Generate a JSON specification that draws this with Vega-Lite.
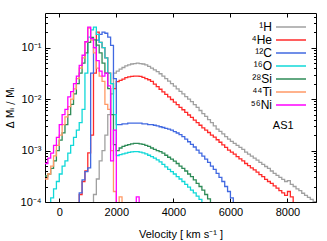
{
  "$schema": "https://vega.github.io/schema/vega-lite/v6.json",
  "width": 271,
  "height": 189,
  "autosize": "none",
  "padding": {"left": 45, "top": 13, "right": 11, "bottom": 39},
  "config": {
    "font": "Liberation Sans",
    "view": {"stroke": "#000", "strokeWidth": 1},
    "axis": {"labelColor": "#000", "titleColor": "#000", "tickColor": "#000", "labelFontSize": 11, "titleFontSize": 11, "titleFontWeight": "normal", "grid": false, "domain": false}
  },
  "data": {"values": [
    {"v": -500, "Si": 3.2e-4, "Ti": 2.8e-4, "Ni": 5.6e-4},
    {"v": -400, "O": 1e-6, "Si": 3.5e-4, "Ti": 3.5e-4, "Ni": 7.1e-4},
    {"v": -300, "O": 1.2e-4, "Si": 4.5e-4, "Ti": 5e-4, "Ni": 8.9e-4},
    {"v": -200, "O": 1.8e-4, "Si": 6.3e-4, "Ti": 7.9e-4, "Ni": 1.26e-3},
    {"v": -100, "O": 2.5e-4, "Si": 1.0e-3, "Ti": 1.26e-3, "Ni": 1.8e-3},
    {"v": 0, "O": 3.5e-4, "Si": 1.6e-3, "Ti": 2.0e-3, "Ni": 3.2e-3},
    {"v": 100, "O": 5e-4, "Si": 2.2e-3, "Ti": 3.2e-3, "Ni": 5.0e-3},
    {"v": 200, "O": 6.3e-4, "Si": 3.2e-3, "Ti": 4.5e-3, "Ni": 6.3e-3},
    {"v": 300, "O": 8.9e-4, "Si": 5.0e-3, "Ti": 7.1e-3, "Ni": 1.1e-2},
    {"v": 400, "O": 1.26e-3, "Si": 7.9e-3, "Ti": 1.0e-2, "Ni": 1.4e-2},
    {"v": 500, "O": 1.8e-3, "Si": 1.26e-2, "Ti": 1.58e-2, "Ni": 2.0e-2},
    {"v": 600, "He": 1e-6, "C": 1e-6, "O": 2.5e-3, "Si": 2.0e-2, "Ti": 2.5e-2, "Ni": 2.8e-2},
    {"v": 700, "He": 1.4e-4, "C": 1.5e-4, "O": 3.5e-3, "Si": 3.2e-2, "Ti": 4.0e-2, "Ni": 4.5e-2},
    {"v": 800, "He": 2.5e-4, "C": 2.7e-4, "O": 6.3e-3, "Si": 5.0e-2, "Ti": 6.3e-2, "Ni": 7.1e-2},
    {"v": 900, "He": 4e-4, "C": 3.9e-4, "O": 0.032, "Si": 0.079, "Ti": 0.13, "Ni": 0.13},
    {"v": 1000, "He": 9e-4, "C": 4.6e-4, "O": 0.16, "Si": 0.126, "Ti": 0.24, "Ni": 0.25},
    {"v": 1100, "H": 1e-6, "He": 2e-3, "C": 0.032, "O": 0.22, "Si": 0.158, "Ti": 0.14, "Ni": 0.15},
    {"v": 1200, "H": 1.4e-4, "He": 0.032, "C": 0.1, "O": 0.25, "Si": 0.141, "Ti": 0.079, "Ni": 0.1},
    {"v": 1300, "H": 2.8e-4, "He": 0.2, "C": 0.14, "O": 0.18, "Si": 0.112, "Ti": 0.04, "Ni": 0.056},
    {"v": 1400, "H": 6.3e-4, "He": 0.126, "C": 0.18, "O": 0.126, "Si": 0.079, "Ti": 0.028, "Ni": 0.035},
    {"v": 1500, "H": 1e-3, "He": 0.1, "C": 0.2, "O": 0.1, "Si": 0.05, "Ti": 0.022, "Ni": 0.028},
    {"v": 1600, "H": 2e-3, "He": 0.063, "C": 0.19, "O": 0.063, "Si": 0.032, "Ti": 0.0079, "Ni": 0.032},
    {"v": 1700, "H": 5e-3, "He": 0.032, "C": 0.16, "O": 0.032, "Si": 0.016, "Ti": 0.0063, "Ni": 0.018},
    {"v": 1800, "H": 0.0126, "He": 0.02, "C": 0.11, "O": 0.02, "Si": 0.005, "Ti": 1e-3, "Ni": 6.3e-4},
    {"v": 1900, "H": 0.032, "He": 0.016, "C": 0.025, "O": 0.005, "Si": 1.3e-3, "Ti": 1.6e-4, "Ni": 2.5e-3},
    {"v": 2000, "H": 0.035, "He": 0.0219, "C": 0.0032, "O": 8e-4, "Si": 1e-3, "Ti": 1e-6, "Ni": 1e-6},
    {"v": 2100, "H": 0.038, "He": 0.023, "C": 0.0032, "O": 8.3e-4, "Si": 1.12e-3, "Ti": 1.26e-4},
    {"v": 2200, "H": 0.041, "He": 0.0245, "C": 0.0033, "O": 8.6e-4, "Si": 1.2e-3, "Ti": 1e-6},
    {"v": 2300, "H": 0.044, "He": 0.026, "C": 0.0033, "O": 8.9e-4, "Si": 1.26e-3},
    {"v": 2400, "H": 0.046, "He": 0.027, "C": 0.0034, "O": 9.2e-4, "Si": 1.3e-3},
    {"v": 2500, "H": 0.048, "He": 0.0275, "C": 0.0034, "O": 9.4e-4, "Si": 1.35e-3},
    {"v": 2600, "H": 0.049, "He": 0.028, "C": 0.0034, "O": 9.5e-4, "Si": 1.38e-3, "Ni": 1e-6},
    {"v": 2700, "H": 0.05, "He": 0.028, "C": 0.0034, "O": 9.5e-4, "Si": 1.38e-3, "Ni": 1.26e-4},
    {"v": 2800, "H": 0.049, "He": 0.0275, "C": 0.0034, "O": 9.3e-4, "Si": 1.35e-3, "Ni": 1e-6},
    {"v": 2900, "H": 0.048, "He": 0.0265, "C": 0.0033, "O": 9e-4, "Si": 1.32e-3},
    {"v": 3000, "H": 0.046, "He": 0.025, "C": 0.0033, "O": 8.6e-4, "Si": 1.26e-3},
    {"v": 3100, "H": 0.043, "He": 0.0237, "C": 0.0032, "O": 8.1e-4, "Si": 1.2e-3},
    {"v": 3200, "H": 0.04, "He": 0.022, "C": 0.0032, "O": 7.6e-4, "Si": 1.12e-3},
    {"v": 3300, "H": 0.037, "He": 0.0195, "C": 0.0031, "O": 7.1e-4, "Si": 1.05e-3},
    {"v": 3400, "H": 0.034, "He": 0.0174, "C": 0.003, "O": 6.6e-4, "Si": 1e-3},
    {"v": 3500, "H": 0.031, "He": 0.0155, "C": 0.0029, "O": 6e-4, "Si": 9.5e-4},
    {"v": 3600, "H": 0.028, "He": 0.0138, "C": 0.0028, "O": 5.4e-4, "Si": 8.9e-4},
    {"v": 3700, "H": 0.025, "He": 0.0123, "C": 0.0027, "O": 4.8e-4, "Si": 8.1e-4},
    {"v": 3800, "H": 0.0224, "He": 0.011, "C": 0.0026, "O": 4.3e-4, "Si": 7.4e-4},
    {"v": 3900, "H": 0.02, "He": 0.0098, "C": 0.0025, "O": 3.9e-4, "Si": 6.8e-4},
    {"v": 4000, "H": 0.0178, "He": 0.0087, "C": 0.00234, "O": 3.5e-4, "Si": 6.2e-4},
    {"v": 4100, "H": 0.0158, "He": 0.0078, "C": 0.00219, "O": 3.1e-4, "Si": 5.6e-4},
    {"v": 4200, "H": 0.0141, "He": 0.0069, "C": 0.00204, "O": 2.8e-4, "Si": 5e-4},
    {"v": 4300, "H": 0.0126, "He": 0.0062, "C": 0.00186, "O": 2.5e-4, "Si": 4.5e-4},
    {"v": 4400, "H": 0.0112, "He": 0.0055, "C": 0.00166, "O": 2.2e-4, "Si": 4e-4},
    {"v": 4500, "H": 0.01, "He": 0.0049, "C": 0.00148, "O": 1.95e-4, "Si": 3.5e-4},
    {"v": 4600, "H": 0.0089, "He": 0.0044, "C": 0.00132, "O": 1.7e-4, "Si": 3.1e-4},
    {"v": 4700, "H": 0.0078, "He": 0.0039, "C": 0.00117, "O": 1.5e-4, "Si": 2.7e-4},
    {"v": 4800, "H": 0.0069, "He": 0.0035, "C": 0.00102, "O": 1.3e-4, "Si": 2.3e-4},
    {"v": 4900, "H": 0.006, "He": 0.0031, "C": 8.9e-4, "O": 1.12e-4, "Si": 2e-4},
    {"v": 5000, "H": 0.0052, "He": 0.00275, "C": 7.8e-4, "O": 1e-6, "Si": 1.7e-4},
    {"v": 5100, "H": 0.0046, "He": 0.0025, "C": 6.8e-4, "Si": 1.4e-4},
    {"v": 5200, "H": 0.004, "He": 0.00224, "C": 5.9e-4, "Si": 1.15e-4},
    {"v": 5300, "H": 0.0035, "He": 0.002, "C": 5e-4, "Si": 1e-6},
    {"v": 5400, "H": 0.003, "He": 0.00182, "C": 4.3e-4},
    {"v": 5500, "H": 0.0026, "He": 0.00162, "C": 3.6e-4},
    {"v": 5600, "H": 0.00235, "He": 0.00145, "C": 3e-4},
    {"v": 5700, "H": 0.0021, "He": 0.00129, "C": 2.5e-4},
    {"v": 5800, "H": 0.00186, "He": 0.00115, "C": 2e-4},
    {"v": 5900, "H": 0.00166, "He": 0.00102, "C": 1.6e-4},
    {"v": 6000, "H": 0.0015, "He": 9.3e-4, "C": 1.2e-4},
    {"v": 6100, "H": 0.00138, "He": 8.5e-4, "C": 1e-6},
    {"v": 6200, "H": 0.00126, "He": 7.6e-4},
    {"v": 6300, "H": 0.00115, "He": 6.9e-4},
    {"v": 6400, "H": 0.00105, "He": 6.3e-4},
    {"v": 6500, "H": 9.3e-4, "He": 5.6e-4},
    {"v": 6600, "H": 8.5e-4, "He": 5.1e-4},
    {"v": 6700, "H": 7.8e-4, "He": 4.6e-4},
    {"v": 6800, "H": 7.1e-4, "He": 4.2e-4},
    {"v": 6900, "H": 6.5e-4, "He": 3.8e-4},
    {"v": 7000, "H": 5.9e-4, "He": 3.4e-4},
    {"v": 7100, "H": 5.4e-4, "He": 3.1e-4},
    {"v": 7200, "H": 4.9e-4, "He": 2.75e-4},
    {"v": 7300, "H": 4.5e-4, "He": 2.5e-4},
    {"v": 7400, "H": 4e-4, "He": 2.3e-4},
    {"v": 7500, "H": 3.6e-4, "He": 2.05e-4},
    {"v": 7600, "H": 3.3e-4, "He": 1.86e-4},
    {"v": 7700, "H": 3e-4, "He": 1.66e-4},
    {"v": 7800, "H": 2.75e-4, "He": 1.5e-4},
    {"v": 7900, "H": 2.5e-4, "He": 1.35e-4},
    {"v": 8000, "H": 2.6e-4, "He": 1.6e-4},
    {"v": 8100, "H": 2.2e-4, "He": 1.26e-4},
    {"v": 8200, "H": 2e-4, "He": 1e-6},
    {"v": 8300, "H": 1.8e-4},
    {"v": 8400, "H": 1.66e-4},
    {"v": 8500, "H": 1.48e-4},
    {"v": 8600, "H": 1.35e-4},
    {"v": 8700, "H": 1.23e-4},
    {"v": 8800, "H": 1.12e-4},
    {"v": 8900, "H": 1.02e-4},
    {"v": 9000, "H": 1e-6}
  ]},
  "resolve": {"axis": {"x": "independent", "y": "independent"}},
  "layer": [
    {
      "transform": [{"fold": ["H", "He", "C", "O", "Si", "Ti", "Ni"], "as": ["iso", "val"]}],
      "mark": {"type": "line", "interpolate": "step-after", "clip": true, "strokeWidth": 1.3},
      "encoding": {
        "x": {"field": "v", "type": "quantitative",
          "scale": {"domain": [-500, 9000], "nice": false, "zero": false},
          "axis": {"orient": "bottom", "values": [0, 2000, 4000, 6000, 8000], "format": "d", "tickSize": -4, "labelPadding": 8, "title": "Velocity  [ km s⁻¹ ]", "titlePadding": 11}},
        "y": {"field": "val", "type": "quantitative",
          "scale": {"type": "log", "domain": [1e-4, 0.47], "nice": false},
          "axis": {"orient": "left",
            "values": [1e-4, 2e-4, 3e-4, 4e-4, 5e-4, 6e-4, 7e-4, 8e-4, 9e-4, 1e-3, 2e-3, 3e-3, 4e-3, 5e-3, 6e-3, 7e-3, 8e-3, 9e-3, 0.01, 0.02, 0.03, 0.04, 0.05, 0.06, 0.07, 0.08, 0.09, 0.1, 0.2, 0.3, 0.4],
            "labelExpr": "abs(log(datum.value)/LN10 - round(log(datum.value)/LN10)) < 1e-6 ? '10' + ['⁰','⁻¹','⁻²','⁻³','⁻⁴'][-round(log(datum.value)/LN10)] : ''",
            "tickSize": {"condition": {"test": "abs(log(datum.value)/LN10 - round(log(datum.value)/LN10)) < 1e-6", "value": -5}, "value": -2.5},
            "labelPadding": 9, "title": "Δ Mᵢ / Mᵢ", "titleFont": "DejaVu Sans", "titleFontSize": 10, "titleFontStyle": "normal", "titlePadding": 5}},
        "color": {"field": "iso", "type": "nominal",
          "scale": {"domain": ["H", "He", "C", "O", "Si", "Ti", "Ni"], "range": ["#a0a0a0", "#ff2a2a", "#4169e1", "#10d8d8", "#2e8b57", "#ff9966", "#ff00ff"]},
          "legend": {"orient": "none", "legendX": 240, "legendY": 8, "title": null, "symbolType": "M-3,0H3", "symbolSize": 100, "symbolStrokeWidth": 1.5, "symbolFillColor": "transparent", "labelAlign": "right", "labelOffset": -25, "labelFontSize": 12, "labelColor": "#000", "rowPadding": 1,
            "labelExpr": "{'H':'¹H','He':'⁴He','C':'¹²C','O':'¹⁶O','Si':'²⁸Si','Ti':'⁴⁴Ti','Ni':'⁵⁶Ni'}[datum.label]"}}
      }
    },
    {
      "mark": {"type": "point", "opacity": 0},
      "encoding": {
        "x": {"field": "v", "type": "quantitative",
          "scale": {"domain": [-500, 9000], "nice": false, "zero": false},
          "axis": {"orient": "top", "values": [0, 2000, 4000, 6000, 8000], "labels": false, "tickSize": -4, "title": null}},
        "y": {"field": "H", "type": "quantitative",
          "scale": {"type": "log", "domain": [1e-4, 0.47], "nice": false},
          "axis": {"orient": "right", "labels": false, "title": null,
            "values": [1e-4, 2e-4, 3e-4, 4e-4, 5e-4, 6e-4, 7e-4, 8e-4, 9e-4, 1e-3, 2e-3, 3e-3, 4e-3, 5e-3, 6e-3, 7e-3, 8e-3, 9e-3, 0.01, 0.02, 0.03, 0.04, 0.05, 0.06, 0.07, 0.08, 0.09, 0.1, 0.2, 0.3, 0.4],
            "tickSize": {"condition": {"test": "abs(log(datum.value)/LN10 - round(log(datum.value)/LN10)) < 1e-6", "value": -5}, "value": -2.5}}}
      }
    },
    {
      "data": {"values": [{"t": "AS1"}]},
      "mark": {"type": "text", "fontSize": 11, "align": "center", "baseline": "middle", "color": "#000"},
      "encoding": {
        "text": {"field": "t"},
        "x": {"datum": 7850, "axis": null},
        "y": {"datum": 0.003, "axis": null}
      }
    }
  ]
}
